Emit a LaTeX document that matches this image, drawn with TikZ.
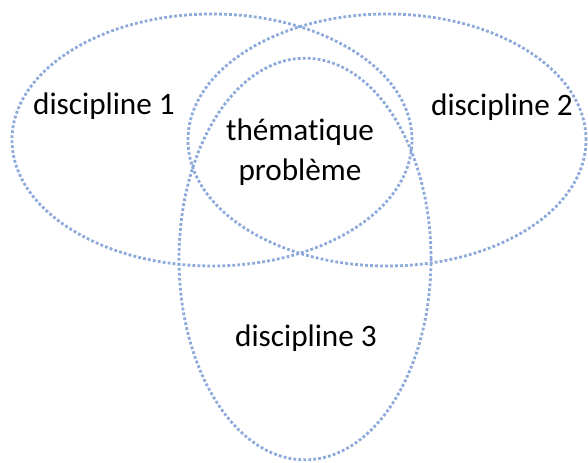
\documentclass[tikz,border=0pt]{standalone}
\usepackage{fontspec}
\setmainfont[Ligatures=NoCommon]{Carlito}
\definecolor{vnBlue}{RGB}{142, 170, 219}
\definecolor{vnText}{RGB}{0, 0, 0}
\usetikzlibrary{positioning}
\tikzset{
  % Ellipse styles
  discset/.style={
    draw=vnBlue,
    line width=2pt,
    dash pattern=on 2pt off 1.55pt
  },
  % Labels
  disclabel/.style={
    font=\fontsize{22.2}{28.5}\selectfont,
    text=vnText,
    anchor=base,
    align=center,
    inner sep=0pt
  },
}
\begin{document}
\begin{tikzpicture}
  \useasboundingbox (0,0) rectangle (14.7,11.55);
  % three disciplines
  \draw[discset] (5.3,8.05) ellipse [x radius=5.0, y radius=3.15];
  \draw[discset] (9.675,8.05) ellipse [x radius=4.975, y radius=3.15];
  \draw[discset] (7.625,5.075) ellipse [x radius=3.15, y radius=5.02];
  % texts
  \node[disclabel] (disc1) at (2.6,8.675) {discipline 1};
  \node[disclabel] (disc2) at (12.55,8.65) {discipline 2};
  \node[disclabel] (disc3) at (7.65,2.875) {discipline 3};
  \node[disclabel] (theme) at (7.5,7.025) {thématique\\problème};
\end{tikzpicture}
\end{document}
